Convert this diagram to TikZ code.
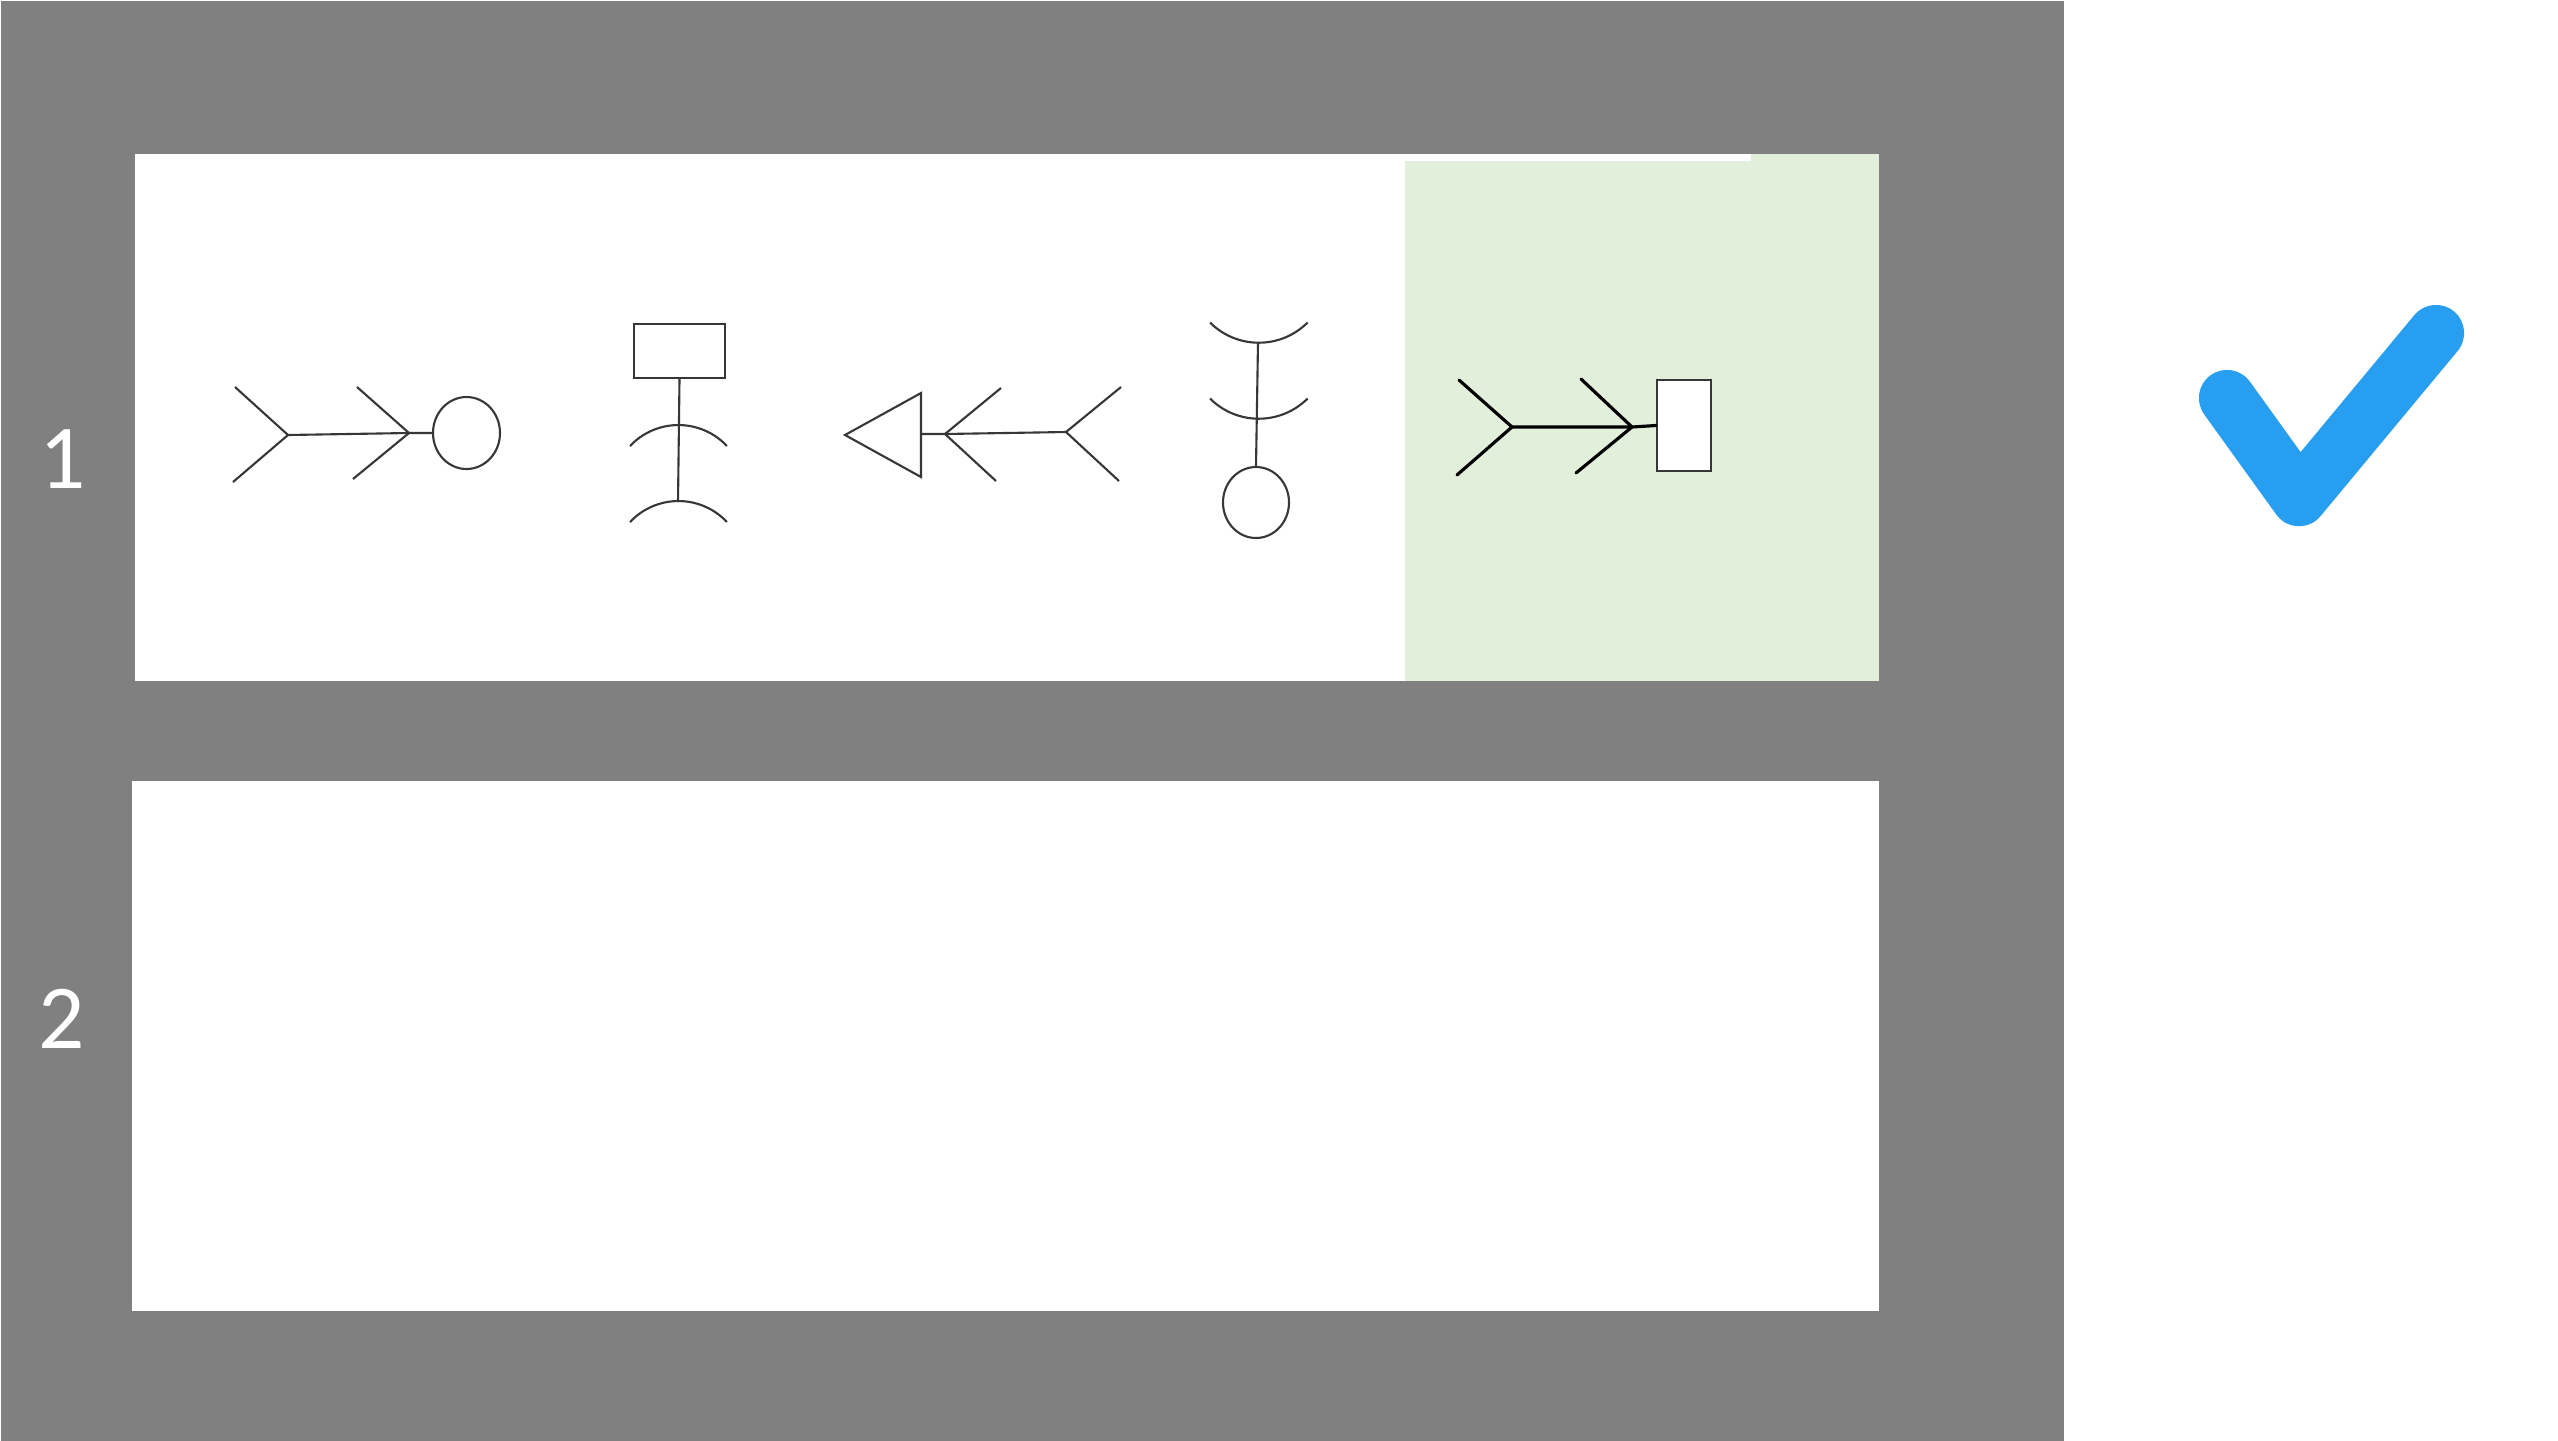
\documentclass[tikz,border=0pt]{standalone}
\usepackage{fontspec}
\newfontfamily\rowfont{Carlito}
\usetikzlibrary{shapes.geometric}
\definecolor{panelgray}{RGB}{128,128,128}
\definecolor{pickgreen}{RGB}{226,239,218}
\definecolor{tickblue}{RGB}{39,158,240}
\definecolor{inkgray}{RGB}{55,55,55}
\tikzset{
  symline/.style={draw=inkgray, line width=0.6pt},
  boldline/.style={draw=black, line width=0.9pt, line cap=round},
  rowlabel/.style={text=white, font=\rowfont\fontsize{26}{30}\selectfont, inner sep=0pt},
}
\begin{document}
\begin{tikzpicture}
\useasboundingbox (0,0) rectangle (25.58,-14.40);

\node (panel) [rectangle, fill=panelgray, minimum width=206.3mm, minimum height=144mm, anchor= north west, inner sep=0pt] at (0,0) {};

\node (rowA) [rectangle, fill=white, minimum width=174.4mm, minimum height=52.7mm, anchor= north west, inner sep=0pt] at (1.34,-1.53) {};
\node (pickA) [rectangle, fill=pickgreen, minimum width=47.4mm, minimum height=52mm, anchor= north west, inner sep=0pt] at (14.04,-1.60) {};
\node (pickB) [rectangle, fill=pickgreen, minimum width=12.8mm, minimum height=0.8mm, anchor= north west, inner sep=0pt] at (17.50,-1.53) {};
\node (rowB) [rectangle, fill=white, minimum width=174.7mm, minimum height=53mm, anchor= north west, inner sep=0pt] at (1.31,-7.80) {};

\node (labA) [rowlabel] at (0.63,-4.59) {1};
\node (labB) [rowlabel] at (0.62,-10.19) {2};

% symbol 1: double fork to circle
\coordinate (fa1) at (2.88,-4.35);
\coordinate (fa2) at (4.09,-4.33);
\node (circA) [ellipse, symline, minimum width=6.7mm, minimum height=7.2mm, inner sep=0pt] at (4.665,-4.33) {};
\draw [symline] (2.35,-3.87) -- (fa1) -- (2.33,-4.82);
\draw [symline] (3.57,-3.87) -- (fa2) -- (3.53,-4.79);
\draw [symline] (fa1) -- (fa2) -- (circA.west);

% symbol 2: box over two arcs
\node (boxA) [rectangle, symline, minimum width=9.1mm, minimum height=5.4mm, inner sep=0pt] at (6.795,-3.51) {};
\coordinate (stemA) at (6.78,-5.02);
\draw [symline] (boxA.south) -- (stemA);
\draw [symline] (6.30,-4.46) arc[start angle=136.8, end angle=43.2, radius=0.665];
\draw [symline] (6.30,-5.22) arc[start angle=136.8, end angle=43.2, radius=0.665];

% symbol 3: triangle with double fork
\coordinate (triT) at (8.45,-4.35);
\coordinate (triU) at (9.21,-3.93);
\coordinate (triD) at (9.21,-4.77);
\coordinate (triM) at (9.21,-4.34);
\coordinate (fb1) at (9.45,-4.34);
\coordinate (fb2) at (10.66,-4.32);
\draw [symline] (triT) -- (triU) -- (triD) -- cycle;
\draw [symline] (triM) -- (fb1) -- (fb2);
\draw [symline] (10.01,-3.88) -- (fb1) -- (9.96,-4.81);
\draw [symline] (11.21,-3.87) -- (fb2) -- (11.19,-4.81);

% symbol 4: two arcs over circle
\node (circB) [ellipse, symline, minimum width=6.6mm, minimum height=7.1mm, inner sep=0pt] at (12.56,-5.025) {};
\coordinate (capB) at (12.58,-3.42);
\draw [symline] (12.10,-3.225) arc[start angle=225, end angle=315, radius=0.69];
\draw [symline] (12.10,-3.985) arc[start angle=225, end angle=315, radius=0.69];
\draw [symline] (capB) -- (circB.north);

% symbol 5: double fork to box
\coordinate (fc1) at (15.12,-4.27);
\coordinate (fc2) at (16.32,-4.27);
\node (boxB) [rectangle, symline, fill=white, minimum width=5.4mm, minimum height=9.1mm, inner sep=0pt] at (16.84,-4.255) {};
\draw [boldline] (14.59,-3.80) -- (fc1) -- (14.57,-4.75);
\draw [boldline] (15.81,-3.79) -- (fc2) -- (15.76,-4.73);
\draw [boldline] (fc1) -- (fc2) -- (boxB.west);

% tick
\coordinate (tickL) at (22.27,-3.98);
\coordinate (tickV) at (22.99,-4.98);
\coordinate (tickR) at (24.36,-3.33);
\draw [tickblue, line width=16pt, line cap=round, line join=round] (tickL) -- (tickV) -- (tickR);
\end{tikzpicture}
\end{document}
